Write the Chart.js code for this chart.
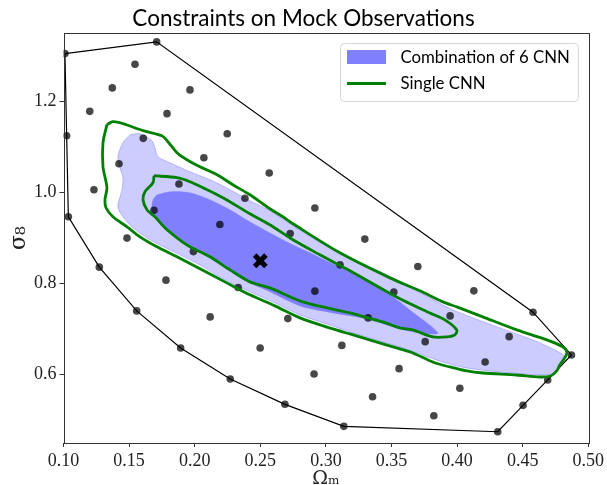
<!DOCTYPE html>
<html>
<head>
<meta charset="utf-8">
<script src="https://cdn.jsdelivr.net/npm/chart.js@4.4.0/dist/chart.umd.min.js"></script>
<style>
  html, body { margin: 0; padding: 0; background: #fff; }
  #wrap { width: 607px; height: 485px; }
</style>
</head>
<body>
<div id="wrap"><canvas id="chart" width="607" height="485"></canvas></div>
<script>
'use strict';

// simulation design points (Omega_m, sigma_8)
const designOmegaM = [0.1011, 0.1710, 0.1545, 0.1372, 0.1964, 0.1200, 0.1789, 0.1024, 0.1608, 0.2248,
    0.1423, 0.2070, 0.1232, 0.1880, 0.2568, 0.1037, 0.1690, 0.2383, 0.2916, 0.1484,
    0.2192, 0.2728, 0.3297, 0.1273, 0.1990, 0.3108, 0.3701, 0.1781, 0.2332, 0.2916,
    0.3518, 0.4128, 0.1558, 0.2118, 0.2710, 0.3322, 0.3947, 0.4579, 0.1893, 0.2499,
    0.3122, 0.3757, 0.4397, 0.4872, 0.2271, 0.2910, 0.3558, 0.4214, 0.4691, 0.2688,
    0.3356, 0.4021, 0.4503, 0.3137, 0.3823, 0.4310];
const designSigma8 = [1.3048, 1.3305, 1.2813, 1.2295, 1.2251, 1.1780, 1.1730, 1.1246, 1.1187, 1.1290,
    1.0631, 1.0763, 1.0059, 1.0185, 1.0426, 0.9466, 0.9609, 0.9873, 0.9657, 0.8998,
    0.9297, 0.9099, 0.8976, 0.8360, 0.8701, 0.8411, 0.8374, 0.8075, 0.7912, 0.7833,
    0.7813, 0.7840, 0.7400, 0.7268, 0.7231, 0.7246, 0.7290, 0.7371, 0.6587, 0.6587,
    0.6642, 0.6725, 0.6835, 0.6433, 0.5905, 0.6015, 0.6132, 0.6279, 0.5884, 0.5349,
    0.5516, 0.5701, 0.5327, 0.4866, 0.5099, 0.4747];

// outline of the design
const hullOmegaM = [0.1011, 0.1710, 0.4579, 0.4872, 0.4691, 0.4503, 0.4310, 0.3137, 0.2688, 0.2271,
    0.1893, 0.1558, 0.1273, 0.1037, 0.1024, 0.1011];
const hullSigma8 = [1.3048, 1.3305, 0.7371, 0.6433, 0.5884, 0.5327, 0.4747, 0.4866, 0.5349, 0.5905,
    0.6587, 0.7400, 0.8360, 0.9466, 1.1246, 1.3048];

// combination of 6 CNN, outer contour
const combo2OmegaM = [0.1507, 0.1583, 0.1674, 0.1697, 0.1720, 0.1811, 0.1964, 0.2116, 0.2269, 0.2421,
    0.2573, 0.2749, 0.3107, 0.3434, 0.3792, 0.3968, 0.4326, 0.4577, 0.4745, 0.4814,
    0.4783, 0.4760, 0.4684, 0.4326, 0.4074, 0.3891, 0.3564, 0.3434, 0.3183, 0.3053,
    0.2802, 0.2611, 0.2421, 0.2230, 0.2040, 0.1964, 0.1811, 0.1659, 0.1530, 0.1453,
    0.1415, 0.1446, 0.1453, 0.1430, 0.1415, 0.1453];
const combo2Sigma8 = [1.1268, 1.1290, 1.1136, 1.0982, 1.0785, 1.0653, 1.0455, 1.0279, 1.0059, 0.9818,
    0.9598, 0.9268, 0.8653, 0.8235, 0.7686, 0.7422, 0.7026, 0.6763, 0.6543, 0.6411,
    0.6257, 0.6081, 0.5993, 0.6059, 0.6147, 0.6279, 0.6609, 0.6719, 0.6938, 0.7070,
    0.7312, 0.7576, 0.7818, 0.8081, 0.8411, 0.8521, 0.8741, 0.8960, 0.9224, 0.9466,
    0.9686, 1.0059, 1.0323, 1.0543, 1.0785, 1.1092];

// combination of 6 CNN, inner contour
const combo1OmegaM = [0.1712, 0.1811, 0.1964, 0.2116, 0.2269, 0.2421, 0.2672, 0.3053, 0.3434, 0.3640,
    0.3853, 0.3716, 0.3564, 0.3312, 0.3053, 0.2802, 0.2573, 0.2421, 0.2269, 0.2139,
    0.2017, 0.1888, 0.1789, 0.1712, 0.1674, 0.1682];
const combo1Sigma8 = [0.9949, 1.0015, 0.9993, 0.9840, 0.9620, 0.9356, 0.8960, 0.8433, 0.7862, 0.7422,
    0.6916, 0.6916, 0.7004, 0.7224, 0.7356, 0.7510, 0.7818, 0.8015, 0.8279, 0.8521,
    0.8741, 0.8960, 0.9180, 0.9400, 0.9620, 0.9840];

// single CNN, outer contour
const single2OmegaM = [0.1331, 0.1377, 0.1453, 0.1606, 0.1750, 0.1796, 0.1865, 0.1941, 0.2040, 0.2170,
    0.2291, 0.2421, 0.2550, 0.2672, 0.2749, 0.3107, 0.3488, 0.3716, 0.3891, 0.3998,
    0.4196, 0.4455, 0.4684, 0.4806, 0.4837, 0.4821, 0.4783, 0.4760, 0.4714, 0.4630,
    0.4455, 0.4196, 0.4074, 0.3945, 0.3815, 0.3663, 0.3564, 0.3434, 0.3183, 0.3053,
    0.2802, 0.2611, 0.2421, 0.2230, 0.2040, 0.1865, 0.1712, 0.1583, 0.1484, 0.1377,
    0.1324, 0.1316, 0.1331, 0.1301, 0.1301];
const single2Sigma8 = [1.1488, 1.1554, 1.1510, 1.1356, 1.1246, 1.1114, 1.0873, 1.0719, 1.0565, 1.0389,
    1.0169, 0.9949, 0.9686, 0.9466, 0.9312, 0.8675, 0.8125, 0.7840, 0.7598, 0.7488,
    0.7268, 0.6982, 0.6763, 0.6609, 0.6499, 0.6367, 0.6213, 0.6081, 0.5971, 0.5949,
    0.5993, 0.6037, 0.6081, 0.6169, 0.6279, 0.6477, 0.6565, 0.6675, 0.6894, 0.7004,
    0.7246, 0.7510, 0.7752, 0.8037, 0.8323, 0.8587, 0.8807, 0.9026, 0.9246, 0.9466,
    0.9664, 0.9840, 1.0103, 1.0565, 1.1092];

// single CNN, inner contour
const single1OmegaM = [0.1690, 0.1865, 0.1964, 0.2063, 0.2215, 0.2421, 0.2573, 0.2749, 0.2954, 0.3183,
    0.3564, 0.3792, 0.3907, 0.3998, 0.3983, 0.3922, 0.3815, 0.3663, 0.3564, 0.3434,
    0.3320, 0.3183, 0.2825, 0.2573, 0.2421, 0.2269, 0.2116, 0.1964, 0.1865, 0.1773,
    0.1697, 0.1636, 0.1606, 0.1621, 0.1682];
const single1Sigma8 = [1.0367, 1.0323, 1.0235, 1.0103, 0.9884, 0.9532, 0.9290, 0.8960, 0.8631, 0.8279,
    0.7664, 0.7356, 0.7202, 0.6982, 0.6872, 0.6828, 0.6828, 0.6982, 0.7026, 0.7158,
    0.7246, 0.7356, 0.7598, 0.7905, 0.8037, 0.8301, 0.8587, 0.8807, 0.9004, 0.9224,
    0.9466, 0.9620, 0.9840, 1.0015, 1.0213];

// fiducial cosmology of the mock
const fiducialOmegaM = [0.25];
const fiducialSigma8 = [0.85];

const xTicks = [0.10, 0.15, 0.20, 0.25, 0.30, 0.35, 0.40, 0.45, 0.50];
const yTicks = [0.6, 0.8, 1.0, 1.2];
const legendLabels = ['Combination of 6 CNN', 'Single CNN'];

const colors = {
    comboOuter: '#ccccff',
    comboInner: '#8080ff',
    single: '#008000',
    dots: 'rgba(0,0,0,0.72)',
    axis: '#333333'
};

const toPoints = (xs, ys, closed) => {
    const pts = xs.map((x, i) => ({x: x, y: ys[i]}));
    if (closed) pts.push({x: xs[0], y: ys[0]});
    return pts;
};

// box around the plot (matplotlib spines)
const framePlugin = {
    id: 'frame',
    afterDraw(chart) {
        const {ctx, chartArea: a} = chart;
        ctx.save();
        ctx.strokeStyle = colors.axis;
        ctx.lineWidth = 1;
        ctx.strokeRect(Math.round(a.left) + 0.5, Math.round(a.top) + 0.5,
            Math.round(a.right - a.left), Math.round(a.bottom - a.top));
        ctx.restore();
    }
};

// legend box in the upper right corner
const boxLegendPlugin = {
    id: 'boxLegend',
    afterDraw(chart) {
        const {ctx, chartArea: a} = chart;
        const w = 238, h = 58;
        const x0 = Math.round(a.right - 10 - w) + 0.5;
        const y0 = Math.round(a.top + 10) + 0.5;
        ctx.save();
        ctx.fillStyle = 'rgba(255,255,255,0.85)';
        ctx.strokeStyle = '#d6d6d6';
        ctx.lineWidth = 1;
        ctx.beginPath();
        ctx.roundRect(x0, y0, w, h, 4);
        ctx.fill();
        ctx.stroke();

        ctx.fillStyle = colors.comboInner;
        ctx.fillRect(x0 + 6.5, y0 + 6.5, 39, 14);

        ctx.strokeStyle = colors.single;
        ctx.lineWidth = 3;
        ctx.beginPath();
        ctx.moveTo(x0 + 6.5, y0 + 40);
        ctx.lineTo(x0 + 45.5, y0 + 40);
        ctx.stroke();

        ctx.fillStyle = '#000';
        ctx.font = '16.8px Lato';
        ctx.textBaseline = 'middle';
        ctx.fillText(legendLabels[0], x0 + 60, y0 + 14);
        ctx.fillText(legendLabels[1], x0 + 60, y0 + 40);
        ctx.restore();
    }
};

const contour = (xs, ys, fillColor, lineColor, lineWidth, order) => ({
    type: 'line',
    data: toPoints(xs, ys, true),
    backgroundColor: fillColor,
    borderColor: lineColor,
    borderWidth: lineWidth,
    fill: fillColor ? 'shape' : false,
    tension: 0.3,
    pointRadius: 0,
    order: order
});

const tickFont = {family: 'Liberation Serif', size: 18};

new Chart(document.getElementById('chart'), {
    type: 'scatter',
    data: {
        datasets: [
            contour(combo2OmegaM, combo2Sigma8, colors.comboOuter, 'rgba(120,120,255,0.45)', 1, 9),
            contour(combo1OmegaM, combo1Sigma8, colors.comboInner, 'rgba(128,128,255,0.6)', 0.5, 8),
            {
                type: 'line',
                data: toPoints(hullOmegaM, hullSigma8, false),
                borderColor: '#000',
                borderWidth: 1.2,
                fill: false,
                tension: 0,
                pointRadius: 0,
                order: 7
            },
            {
                type: 'scatter',
                data: toPoints(designOmegaM, designSigma8, false),
                backgroundColor: colors.dots,
                borderWidth: 0,
                pointRadius: 3.8,
                order: 6
            },
            contour(single2OmegaM, single2Sigma8, null, colors.single, 2.8, 5),
            contour(single1OmegaM, single1Sigma8, null, colors.single, 2.8, 4),
            {
                type: 'scatter',
                data: toPoints(fiducialOmegaM, fiducialSigma8, false),
                pointStyle: 'crossRot',
                pointRadius: 8,
                borderColor: '#000',
                borderWidth: 5,
                order: 1
            }
        ]
    },
    options: {
        responsive: false,
        animation: false,
        devicePixelRatio: 1,
        layout: {padding: 0},
        plugins: {
            legend: {display: false},
            tooltip: {enabled: false},
            title: {
                display: true,
                text: 'Constraints on Mock Observations',
                color: '#000',
                font: {family: 'Lato', size: 22.5, weight: 'normal', lineHeight: 1.2},
                padding: {top: 5, bottom: 1}
            }
        },
        scales: {
            x: {
                type: 'linear',
                min: 0.1,
                max: 0.5,
                afterBuildTicks: s => { s.ticks = xTicks.map(v => ({value: v})); },
                afterFit: s => { s.height = 42; },
                ticks: {
                    callback: v => v.toFixed(2),
                    font: tickFont,
                    color: '#222',
                    padding: 3,
                    maxRotation: 0,
                    autoSkip: false
                },
                grid: {display: true, drawOnChartArea: false, drawTicks: true, tickLength: 4, color: colors.axis},
                border: {display: false},
                title: {
                    display: true,
                    text: 'Ωₘ',
                    color: '#222',
                    font: {family: 'DejaVu Serif', size: 19, lineHeight: 0.6},
                    padding: 0
                }
            },
            y: {
                type: 'linear',
                min: 0.45,
                max: 1.35,
                afterBuildTicks: s => { s.ticks = yTicks.map(v => ({value: v})); },
                afterFit: s => { s.width = 63.5; },
                ticks: {
                    callback: v => v.toFixed(1),
                    font: tickFont,
                    color: '#222',
                    padding: 3,
                    autoSkip: false
                },
                grid: {display: true, drawOnChartArea: false, drawTicks: true, tickLength: 4, color: colors.axis},
                border: {display: false},
                title: {
                    display: true,
                    text: 'σ₈',
                    color: '#222',
                    font: {family: 'DejaVu Serif', size: 22, lineHeight: 1},
                    padding: {top: 8, bottom: 0}
                }
            },
            // empty right-hand axis that only keeps the right margin
            yRight: {
                type: 'linear',
                position: 'right',
                min: 0.45,
                max: 1.35,
                afterBuildTicks: s => { s.ticks = []; },
                afterFit: s => { s.width = 18.5; },
                ticks: {display: false},
                grid: {display: false},
                border: {display: false}
            }
        }
    },
    plugins: [framePlugin, boxLegendPlugin]
});
</script>
</body>
</html>
